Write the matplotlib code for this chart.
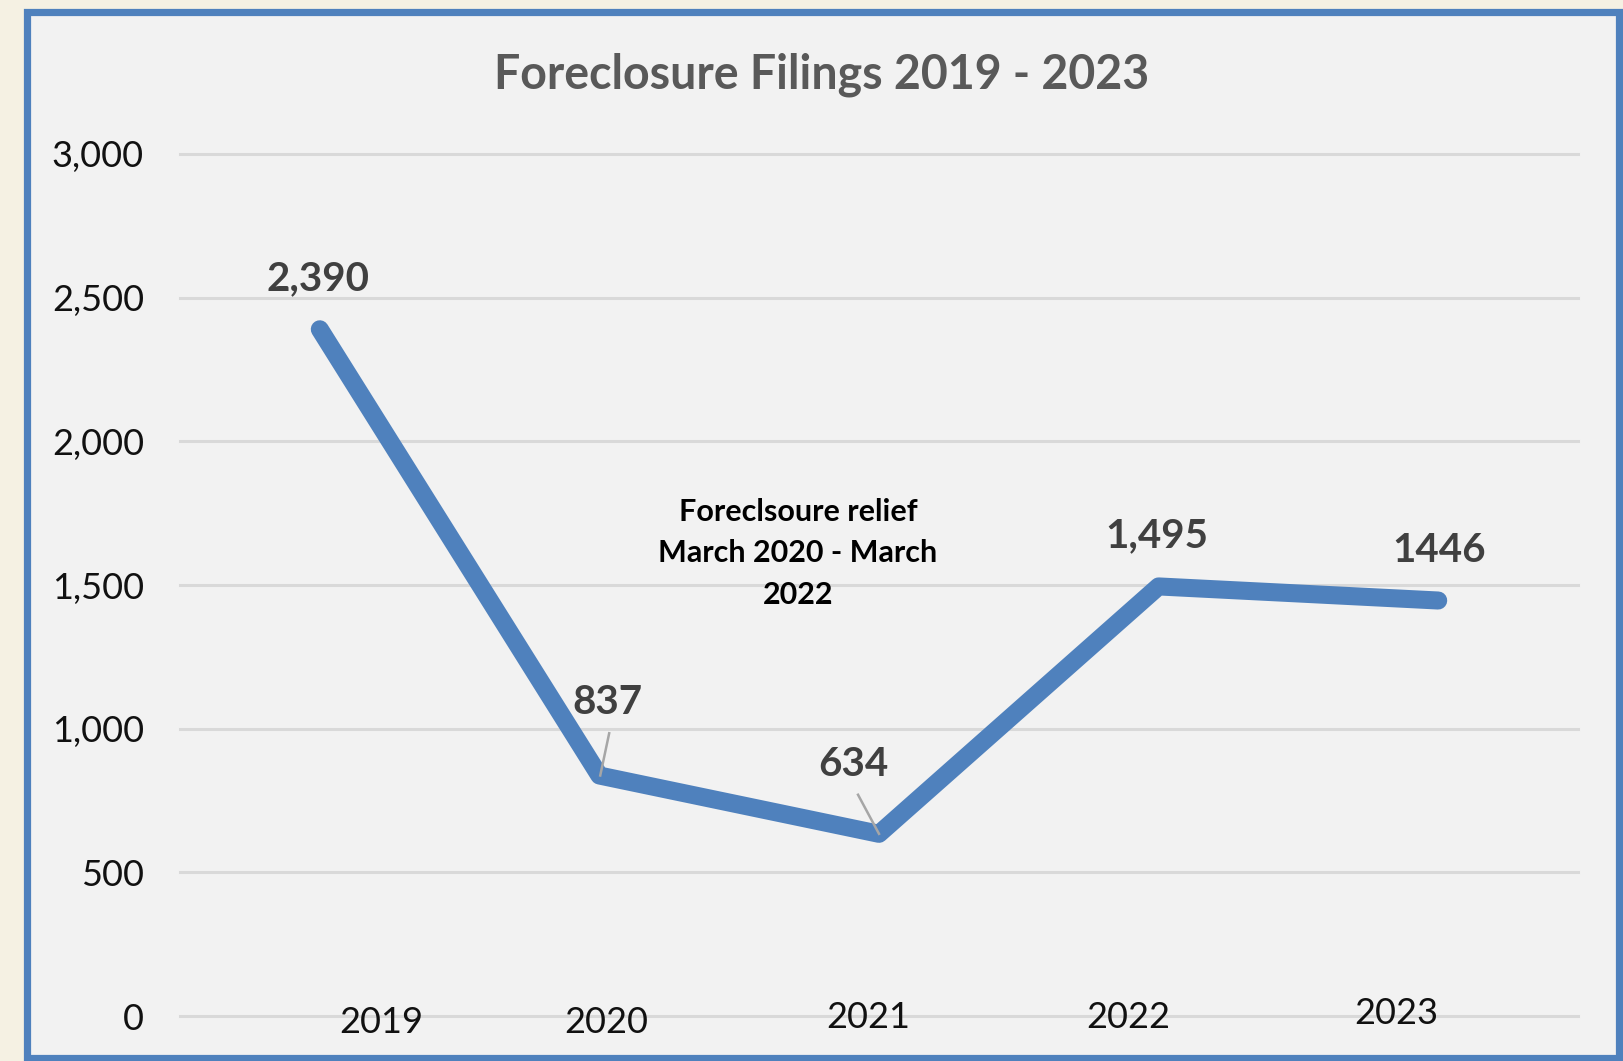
import matplotlib
matplotlib.use("Agg")
import matplotlib.pyplot as plt
from matplotlib.patches import Rectangle

years = ["2019", "2020", "2021", "2022", "2023"]
filings = [2390, 837, 634, 1495, 1446]
value_labels = ["2,390", "837", "634", "1,495", "1446"]
y_ticks = [0, 500, 1000, 1500, 2000, 2500, 3000]
y_tick_labels = ["0", "500", "1,000", "1,500", "2,000", "2,500", "3,000"]
title = "Foreclosure Filings 2019 - 2023"
note = "Foreclsoure relief\nMarch 2020 - March\n2022"

W, H = 1623, 1061
fig = plt.figure(figsize=(W / 100, H / 100), dpi=100)
fig.patch.set_facecolor("#F5F1E3")

# chart area with blue border
fig.patches.append(Rectangle((26.5 / W, 1 - 1058 / H), (1619 - 26.5) / W, (1058 - 11.5) / H,
                             transform=fig.transFigure, facecolor="#F2F2F2",
                             edgecolor="#4F81BD", linewidth=5.2, zorder=-5))

ax = fig.add_axes([180 / W, 1 - 1016 / H, 1398 / W, (1016 - 154) / H])
ax.set_zorder(2)
ax.set_facecolor("none")
for s in ax.spines.values():
    s.set_visible(False)

x = list(range(len(years)))
ax.plot(x, filings, color="#4F81BD", linewidth=13, solid_capstyle="round",
        solid_joinstyle="round", zorder=3)
ax.set_xlim(-0.5, len(years) - 0.5)
ax.set_ylim(0, 3000)

ax.set_yticks(y_ticks)
ax.set_yticklabels(y_tick_labels, fontsize=26, family="Lato", color="#111111")
ax.tick_params(axis="y", length=0, pad=26)
ax.set_xticks([])
ax.yaxis.grid(True, color="#D9D9D9", linewidth=2.2)
for gl in ax.get_ygridlines():
    gl.set_clip_on(False)
ax.set_axisbelow(True)

# x category labels (manually placed text boxes in the original)
xl_off = [0.22, 0.025, -0.04, -0.11, -0.15]
xl_y = [-21, -21, -4, -4, 10]
for i, yr in enumerate(years):
    ax.text(i + xl_off[i], xl_y[i], yr, ha="center", va="center", fontsize=26,
            family="Lato", color="#111111", clip_on=False)

# data labels
lab_dx = [-0.005, 0.03, -0.09, -0.005, 0.003]
lab_dy = [175, 253, 240, 175, 175]
for i, (v, t) in enumerate(zip(filings, value_labels)):
    ax.text(i + lab_dx[i], v + lab_dy[i], t, ha="center", va="center", fontsize=29,
            fontweight="bold", family="Lato", color="#404040", zorder=5)

# leader lines
ax.plot([1.035, 1.003], [984, 837], color="#A6A6A6", linewidth=1.8, zorder=4)
ax.plot([1.925, 2.0], [770, 634], color="#A6A6A6", linewidth=1.8, zorder=4)

# annotation
ax.text(1.71, 1610, note, ha="center", va="center", fontsize=22, fontweight="bold",
        family="Lato", color="black", linespacing=1.6, zorder=5)

fig.text(822 / W, 1 - 75 / H, title, ha="center", va="center", fontsize=33.5,
         fontweight="bold", family="Lato", color="#595959")

fig.savefig("out.png", dpi=100, facecolor=fig.get_facecolor())
